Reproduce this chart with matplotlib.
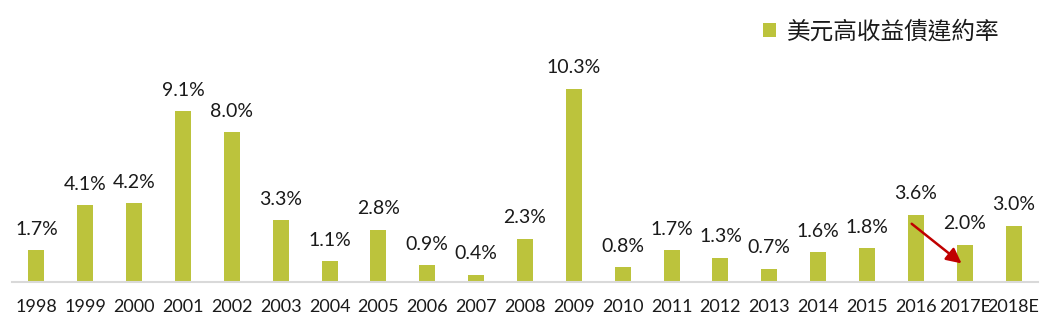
import matplotlib
matplotlib.use("Agg")
import matplotlib.pyplot as plt

categories = ["1998", "1999", "2000", "2001", "2002", "2003", "2004", "2005", "2006", "2007",
              "2008", "2009", "2010", "2011", "2012", "2013", "2014", "2015", "2016", "2017E", "2018E"]
default_rate = [1.7, 4.1, 4.2, 9.1, 8.0, 3.3, 1.1, 2.8, 0.9, 0.4,
                2.3, 10.3, 0.8, 1.7, 1.3, 0.7, 1.6, 1.8, 3.6, 2.0, 3.0]
series_name = "美元高收益債違約率"

fam = ["Lato", "Noto Sans CJK TC", "DejaVu Sans"]
plt.rcParams['font.family'] = fam

fig = plt.figure(figsize=(10.5, 3.24), dpi=100)
ax = fig.add_axes([12/1050, 42/324, 1026/1050, 282/324])
x = list(range(len(categories)))
bars = ax.bar(x, default_rate, width=0.33, color="#BCC33C", label=series_name, zorder=2)
ax.set_xlim(-0.5, len(categories) - 0.5)
ax.set_ylim(0, 282/18.74)
for xi, v in zip(x, default_rate):
    ax.annotate(f"{v:.1f}%", (xi, v), xytext=(0, 9), textcoords="offset points",
                ha="center", va="bottom", fontsize=14, color="#1a1a1a")
ax.set_xticks(x)
ax.set_xticklabels(categories, fontsize=13, color="#1a1a1a")
ax.tick_params(axis="x", length=0, pad=12)
ax.set_yticks([])
for s in ["top", "right", "left"]:
    ax.spines[s].set_visible(False)
ax.spines["bottom"].set_color("#D9D9D9")
ax.spines["bottom"].set_linewidth(1.5)

# trend arrow from 2016 to 2017E
ax.annotate("", xy=(18.98, 0.9), xytext=(17.87, 3.2),
            arrowprops=dict(arrowstyle="-|>,head_length=0.9,head_width=0.45", color="#C00000", lw=1.8),
            zorder=3)

leg = fig.legend(loc="upper left", bbox_to_anchor=(742/1050, 1 + 1/324), frameon=False,
                 prop={"family": ["Noto Sans CJK TC", "DejaVu Sans"], "size": 17},
                 handlelength=0.55, handleheight=0.55, handletextpad=0.45)
for t in leg.get_texts():
    t.set_color("#1a1a1a")

fig.savefig("out.png", dpi=100)
